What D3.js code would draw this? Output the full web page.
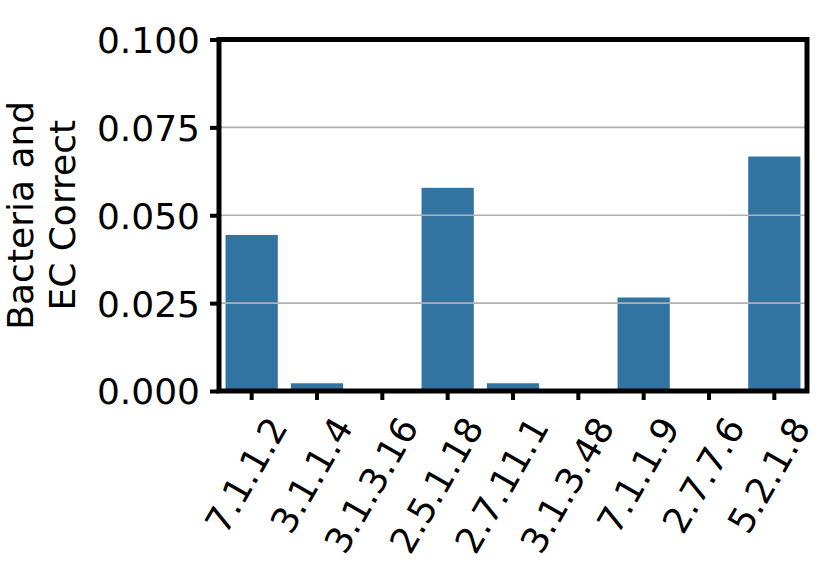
<!DOCTYPE html>
<html>
<head>
<meta charset="utf-8">
<script src="https://cdn.jsdelivr.net/npm/d3@7"></script>
<style>
  body { margin: 0; background: #fff; }
  text { font-family: "DejaVu Sans", sans-serif; fill: #000; }
</style>
</head>
<body>
<script>
const width = 828;
const height = 572;

const categories = ['7.1.1.2', '3.1.1.4', '3.1.3.16', '2.5.1.18', '2.7.11.1', '3.1.3.48', '7.1.1.9', '2.7.7.6', '5.2.1.8'];
const values = [0.0444, 0.0022, 0, 0.0578, 0.0022, 0, 0.0266, 0, 0.0667];
const yTicks = [0, 0.025, 0.05, 0.075, 0.1];
const yLabelLines = ['Bacteria and', 'EC Correct'];

const margin = { top: 39.5, right: 21, bottom: 181, left: 219 };

const x = d3.scaleBand()
  .domain(categories)
  .range([margin.left, width - margin.right])
  .paddingInner(0.2)
  .paddingOuter(0.1);

const y = d3.scaleLinear()
  .domain([0, 0.1])
  .range([height - margin.bottom, margin.top]);

const svg = d3.select('body').append('svg')
  .attr('width', width)
  .attr('height', height);

// bars
svg.append('g')
  .selectAll('rect')
  .data(values)
  .join('rect')
  .attr('x', (d, i) => x(categories[i]))
  .attr('y', d => y(d))
  .attr('width', x.bandwidth())
  .attr('height', d => y(0) - y(d))
  .attr('fill', '#3274a1');

// grid drawn over the bars
svg.append('g')
  .selectAll('line')
  .data(yTicks.slice(1, -1))
  .join('line')
  .attr('x1', margin.left)
  .attr('x2', width - margin.right)
  .attr('y1', d => y(d))
  .attr('y2', d => y(d))
  .attr('stroke', '#b0b0b0')
  .attr('stroke-width', 1.6);

// y axis
const yAxis = svg.append('g')
  .attr('transform', `translate(${margin.left},0)`)
  .call(d3.axisLeft(y).tickValues(yTicks).tickFormat(d3.format('.3f')).tickSize(9).tickPadding(10));
yAxis.select('.domain').remove();
yAxis.selectAll('line').attr('stroke', '#000').attr('stroke-width', 4);
yAxis.selectAll('text').style('font-size', '36px').attr('dy', '0.36em');

// x axis
const xAxis = svg.append('g')
  .attr('transform', `translate(0,${y(0)})`)
  .call(d3.axisBottom(x).tickSize(9).tickFormat(''));
xAxis.select('.domain').remove();
xAxis.selectAll('line').attr('stroke', '#000').attr('stroke-width', 4);

svg.append('g')
  .selectAll('text')
  .data(categories)
  .join('text')
  .attr('transform', d => `translate(${x(d) + x.bandwidth() / 2 + 37},${y(0) + 36}) rotate(-60)`)
  .attr('text-anchor', 'end')
  .style('font-size', '36px')
  .text(d => d);

// frame
svg.append('rect')
  .attr('x', margin.left)
  .attr('y', margin.top)
  .attr('width', width - margin.right - margin.left)
  .attr('height', y(0) - margin.top)
  .attr('fill', 'none')
  .attr('stroke', '#000')
  .attr('stroke-width', 5);

// y label
svg.append('g')
  .selectAll('text')
  .data(yLabelLines)
  .join('text')
  .attr('transform', (d, i) => `translate(${33 + i * 42},${(margin.top + y(0)) / 2}) rotate(-90)`)
  .attr('text-anchor', 'middle')
  .style('font-size', '36px')
  .text(d => d);
</script>
</body>
</html>
